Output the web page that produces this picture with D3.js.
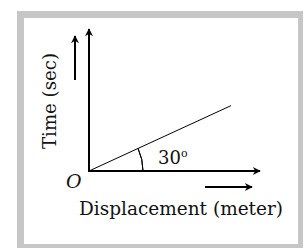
<!DOCTYPE html>
<html>
<head>
<meta charset="utf-8">
<script src="https://cdn.jsdelivr.net/npm/d3@7"></script>
<style>
  html, body { margin: 0; padding: 0; background: #fff; }
  svg { display: block; }
  text { font-family: "DejaVu Serif", "Liberation Serif", serif; fill: #111; }
</style>
</head>
<body>
<div id="chart"></div>
<script>
// axis extents (arbitrary units) and the plotted line
const xDomain = [0, 100];
const yDomain = [0, 100];
const linePoints = [[0, 0], [83, 46]];
const angleLabel = "30";
const xLabel = "Displacement (meter)";
const yLabel = "Time (sec)";
const originLabel = "O";

const width = 305;
const height = 248;

const svg = d3.select("#chart")
  .append("svg")
  .attr("width", width)
  .attr("height", height);

// frame
svg.append("rect")
  .attr("x", 17).attr("y", 11)
  .attr("width", 286).attr("height", 240)
  .attr("fill", "#c6c6c6");
svg.append("rect")
  .attr("x", 24).attr("y", 18)
  .attr("width", 274).attr("height", 226)
  .attr("fill", "#fff");

const x = d3.scaleLinear().domain(xDomain).range([89, 260]);
const y = d3.scaleLinear().domain(yDomain).range([171, 29]);

// arrowheads
const defs = svg.append("defs");
defs.append("marker")
  .attr("id", "arrow")
  .attr("viewBox", "0 -5 10 10")
  .attr("refX", 9)
  .attr("refY", 0)
  .attr("markerUnits", "userSpaceOnUse")
  .attr("markerWidth", 9)
  .attr("markerHeight", 8)
  .attr("orient", "auto")
  .append("path")
  .attr("fill", "#000")
  .attr("d", "M0,-5L10,0L0,5L3,0Z");

// axes
svg.append("line")
  .attr("x1", x(0)).attr("y1", y(0))
  .attr("x2", x(0)).attr("y2", y(yDomain[1]))
  .attr("stroke", "#000").attr("stroke-width", 2)
  .attr("marker-end", "url(#arrow)");
svg.append("line")
  .attr("x1", x(0) - 1).attr("y1", y(0))
  .attr("x2", x(xDomain[1])).attr("y2", y(0))
  .attr("stroke", "#000").attr("stroke-width", 2)
  .attr("marker-end", "url(#arrow)");

// the line
svg.append("path")
  .datum(linePoints)
  .attr("fill", "none")
  .attr("stroke", "#000")
  .attr("stroke-width", 1)
  .attr("d", d3.line().x(d => x(d[0])).y(d => y(d[1])));

// angle arc
const p = linePoints[1];
const theta = Math.atan2(y(0) - y(p[1]), x(p[0]) - x(0));
const r = 54;
svg.append("path")
  .attr("fill", "none")
  .attr("stroke", "#000")
  .attr("stroke-width", 1)
  .attr("transform", `translate(${x(0)},${y(0)})`)
  .attr("d", d3.arc()({
    innerRadius: r, outerRadius: r,
    startAngle: Math.PI / 2 - theta, endAngle: Math.PI / 2
  }));

const angleText = svg.append("text")
  .attr("x", 158).attr("y", 164)
  .attr("font-size", 18);
angleText.append("tspan").text(angleLabel);
angleText.append("tspan")
  .attr("font-size", 11)
  .attr("dy", -7)
  .text("o");

// direction arrows
svg.append("line")
  .attr("x1", 75).attr("y1", 80)
  .attr("x2", 75).attr("y2", 36)
  .attr("stroke", "#000").attr("stroke-width", 2)
  .attr("marker-end", "url(#arrow)");
svg.append("line")
  .attr("x1", 205).attr("y1", 187)
  .attr("x2", 252).attr("y2", 187)
  .attr("stroke", "#000").attr("stroke-width", 2)
  .attr("marker-end", "url(#arrow)");

// labels
svg.append("text")
  .attr("x", 66).attr("y", 188)
  .attr("font-size", 19)
  .attr("font-style", "italic")
  .text(originLabel);

svg.append("text")
  .attr("x", 79).attr("y", 215)
  .attr("font-size", 19)
  .attr("textLength", 204)
  .attr("lengthAdjust", "spacingAndGlyphs")
  .text(xLabel);

svg.append("text")
  .attr("transform", "translate(56,149) rotate(-90)")
  .attr("font-size", 19)
  .attr("textLength", 96)
  .attr("lengthAdjust", "spacingAndGlyphs")
  .text(yLabel);
</script>
</body>
</html>
